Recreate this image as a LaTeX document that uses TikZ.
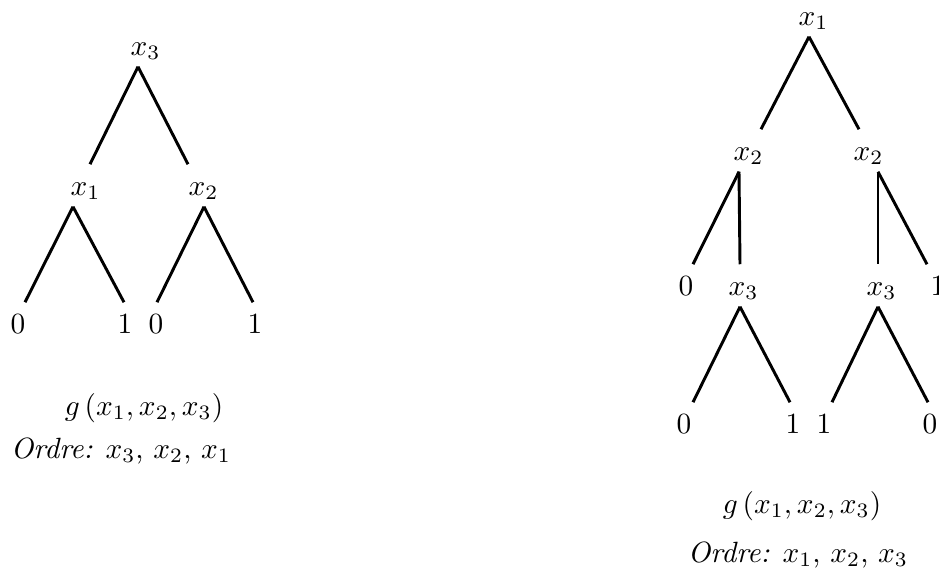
\documentclass[tikz,border=0pt]{standalone}
\begin{document}
\begin{tikzpicture}[x=0.012cm,y=-0.012cm,
  lab/.style={anchor=base,inner xsep=0pt,inner ysep=3.8pt,text height=6.5pt,text depth=0pt},
  branch/.style={line width=1pt}]
\useasboundingbox (0,0) rectangle (939,578);
% left tree: order x3, x2, x1
\node[lab] (t3) at (139,55) {$x\rlap{$_3$}$};
\node[lab] (a1) at (79,195) {$x\rlap{$_1$}$};
\node[lab] (a2) at (197,195) {$x\rlap{$_2$}$};
\node[lab] (la) at (18,333) {$0$};
\node[lab] (lb) at (125,333) {$1$};
\node[lab] (lc) at (156,333) {$0$};
\node[lab] (ld) at (255,333) {$1$};
\foreach \a/\i/\b/\j in {t3/-1/a1/11,t3/-1/a2/-9,a1/-6/la/7,a1/-6/lb/-1,a2/7/lc/1,a2/7/ld/-2}
  {\draw[branch] ([shift={(\i,0)}]\a.south) -- ([shift={(\j,0)}]\b.north);}
\node[anchor=base] (gL) at (144,415) {$g\,(x_1,x_2,x_3)$};
\node[anchor=base] (oL) at (121,458) {\textit{Ordre:} $x_3$, $x_2$, $x_1$};
% right tree: order x1, x2, x3
\node[lab] (r1) at (807,25) {$x\rlap{$_1$}$};
\node[lab] (b1) at (742,160) {$x\rlap{$_2$}$};
\node[lab] (b2) at (862,160) {$x\rlap{$_2$}$};
\node[lab] (c0) at (686,295) {$0$};
\node[lab] (c1) at (737,295) {$x\rlap{$_3$}$};
\node[lab] (c2) at (875,295) {$x\rlap{$_3$}$};
\node[lab] (c3) at (938,295) {$1$};
\node[lab] (d0) at (684,433) {$0$};
\node[lab] (d1) at (793,433) {$1$};
\node[lab] (d2) at (824,433) {$1$};
\node[lab] (d3) at (930,433) {$0$};
\foreach \a/\i/\b/\j in {r1/2/b1/19,r1/2/b2/-3,b1/-3/c0/7,b1/-3/c1/3,b2/16/c2/3,b2/16/c3/-11,
    c1/3/d0/9,c1/3/d1/-3,c2/3/d2/8,c2/3/d3/-2}
  {\draw[branch] ([shift={(\i,0)}]\a.south) -- ([shift={(\j,0)}]\b.north);}
\node[anchor=base] (gR) at (802,513) {$g\,(x_1,x_2,x_3)$};
\node[anchor=base] (oR) at (798,562) {\textit{Ordre:} $x_1$, $x_2$, $x_3$};
\end{tikzpicture}
\end{document}
